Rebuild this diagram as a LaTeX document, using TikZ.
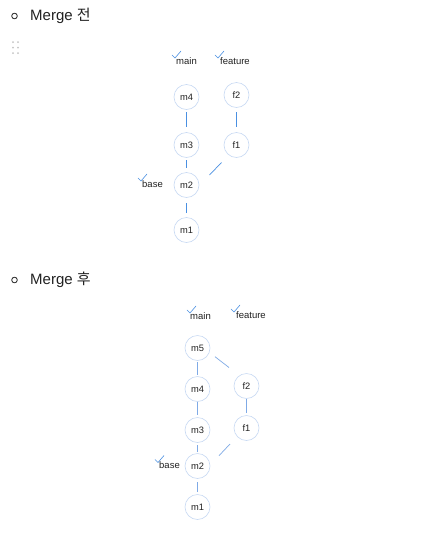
\documentclass[tikz,border=0pt]{standalone}
\usepackage{fontspec}
\setmainfont{Liberation Sans}
\newfontfamily\kor{Noto Sans CJK KR}
\usetikzlibrary{calc}
\definecolor{conncol}{HTML}{4A90E2}
\definecolor{conncolb}{HTML}{7FAAE6}
\definecolor{ringcol}{HTML}{C8DAF3}
\definecolor{txtcol}{HTML}{222222}
\definecolor{dotcol}{HTML}{C4C4C4}
\tikzset{
  commit/.style={circle,draw=ringcol,line width=0.6pt,fill=white,minimum size=25pt,inner sep=0pt,
    font=\fontsize{9.3}{10}\selectfont,text=txtcol},
  conn/.style={draw=conncol,line width=0.7pt},
  connb/.style={draw=conncolb,line width=0.7pt},
  branchlbl/.style={anchor=west,inner sep=0pt,font=\fontsize{9.5}{10}\selectfont,text=txtcol},
  checkmk/.style={draw=conncol,line width=0.6pt,line cap=round,line join=round},
  heading/.style={anchor=west,inner sep=0pt,font=\fontsize{15}{16}\selectfont,text=txtcol},
  bulletc/.style={draw=txtcol,line width=0.8pt}
}
\begin{document}
\begin{tikzpicture}[x=1pt,y=-1pt]
\useasboundingbox[fill=white] (0,0) rectangle (441,539);

% ---------- top section ----------
\draw[bulletc] (14.5,16) circle (2.8);
\node[heading] (h1) at (30,15.5) {Merge {\kor 전}};
\foreach \yy in {42,47.5,53} {
  \fill[dotcol] (13,\yy) circle (1);
  \fill[dotcol] (18,\yy) circle (1);
}

\node[branchlbl] (mainA) at (176,61) {main};
\node[branchlbl] (featA) at (220,61) {feature};
\node[branchlbl] (baseA) at (142,184) {base};
\draw[checkmk] ($(mainA.west)+(-4,-6)$) -- ++(3,3) -- ++(6,-7);
\draw[checkmk] ($(featA.west)+(-5,-6)$) -- ++(3,3) -- ++(6,-7);
\draw[checkmk] ($(baseA.west)+(-4,-6)$) -- ++(3,3) -- ++(6,-7);

\node[commit] (tm4) at (186.5,97) {m4};
\node[commit] (tf2) at (236.5,95) {f2};
\node[commit] (tm3) at (186.5,145) {m3};
\node[commit] (tf1) at (236.5,145) {f1};
\node[commit] (tm2) at (186.5,185) {m2};
\node[commit] (tm1) at (186.5,230) {m1};

\draw[conn] ($(tm4)+(0,15)$) -- ($(tm3)+(0,-18)$);
\draw[conn] ($(tf2)+(0,17)$) -- ($(tf1)+(0,-18)$);
\draw[conn] ($(tm3)+(0,15)$) -- ($(tm2)+(0,-17)$);
\draw[conn] ($(tf1)+(-15,17.5)$) -- ($(tm2)+(23,-10)$);
\draw[conn] ($(tm2)+(0,18)$) -- ($(tm1)+(0,-17)$);

% ---------- bottom section ----------
\draw[bulletc] (14.5,280) circle (2.8);
\node[heading] (h2) at (30,279.5) {Merge {\kor 후}};

\node[branchlbl] (mainB) at (190,316) {main};
\node[branchlbl] (featB) at (236,315) {feature};
\node[branchlbl] (baseB) at (159,465.5) {base};
\draw[checkmk] ($(mainB.west)+(-3,-6)$) -- ++(3,3) -- ++(6,-7);
\draw[checkmk] ($(featB.west)+(-5,-6)$) -- ++(3,3) -- ++(6,-7);
\draw[checkmk] ($(baseB.west)+(-4,-6)$) -- ++(3,3) -- ++(6,-7);

\node[commit] (bm5) at (197.5,348) {m5};
\node[commit] (bm4) at (197.5,389) {m4};
\node[commit] (bf2) at (246.5,386) {f2};
\node[commit] (bm3) at (197.5,430) {m3};
\node[commit] (bf1) at (246.5,428) {f1};
\node[commit] (bm2) at (197.5,466) {m2};
\node[commit] (bm1) at (197.5,507) {m1};

\draw[connb] ($(bm5)+(0,14)$) -- ($(bm4)+(0,-14)$);
\draw[connb] ($(bm5)+(17.5,8.7)$) -- ($(bf2)+(-17.5,-18.5)$);
\draw[connb] ($(bm4)+(0,13)$) -- ($(bm3)+(0,-15)$);
\draw[connb] ($(bf2)+(0,13)$) -- ($(bf1)+(0,-15)$);
\draw[connb] ($(bm3)+(0,15)$) -- ($(bm2)+(0,-14)$);
\draw[connb] ($(bf1)+(-16.5,16)$) -- ($(bm2)+(21.5,-10.3)$);
\draw[connb] ($(bm2)+(0,16)$) -- ($(bm1)+(0,-15)$);
\end{tikzpicture}
\end{document}
